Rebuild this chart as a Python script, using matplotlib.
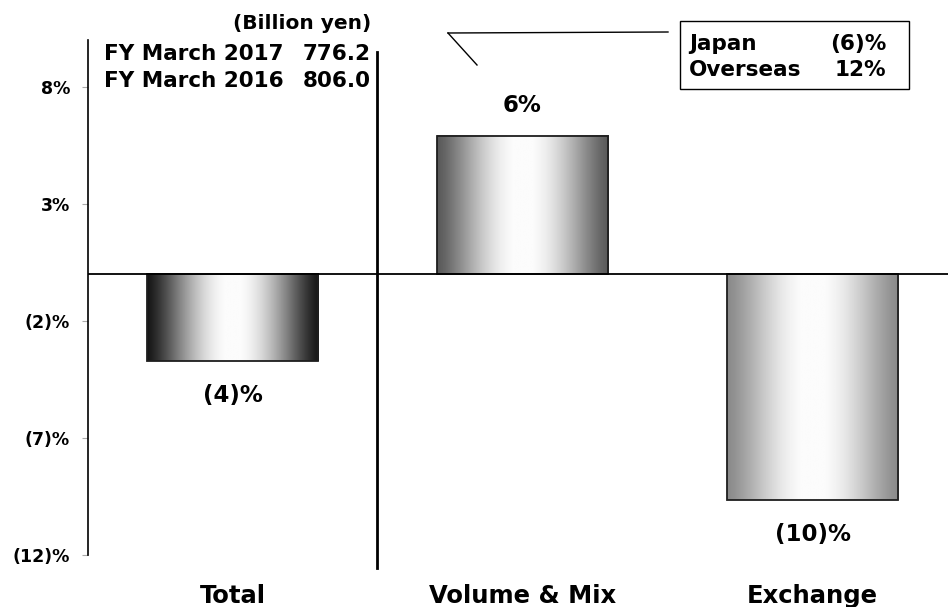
import numpy as np
import matplotlib.pyplot as plt
import matplotlib.transforms as mtransforms
from matplotlib.patches import Rectangle

categories = ["Total", "Volume & Mix", "Exchange"]
values = [-3.73, 5.92, -9.64]
value_labels = ["(4)%", "6%", "(10)%"]
edge_grays = [0.09, 0.35, 0.54]
yticks = [8, 3, -2, -7, -12]
ytick_labels = ["8%", "3%", "(2)%", "(7)%", "(12)%"]
fy_lines = [("FY March 2017", "776.2"), ("FY March 2016", "806.0")]
region_lines = [("Japan", "(6)%"), ("Overseas", "12%")]

plt.rcParams['font.family'] = ['DejaVu Sans']
W, H = 948, 607
fig = plt.figure(figsize=(9.48, 6.07), dpi=100)
ax = fig.add_axes([88/W, 1-555/H, 860/W, 515/H])
ax.set_xlim(-0.498, 2.467)
ax.set_ylim(-12, 10)

x = np.arange(len(categories))
width = 0.59
bars = ax.bar(x, values, width=width, facecolor='none', edgecolor='#1e1e1e', linewidth=1.3, zorder=3)

t = np.linspace(0, 1, 256)
for b, g in zip(bars, edge_grays):
    prof = np.sin(np.pi * t) ** 1.3
    vals = np.minimum(g + (1 - g) * prof, 0.985)
    img = np.tile(vals, (2, 1))
    x0, y0 = b.get_x(), b.get_y()
    w, h = b.get_width(), b.get_height()
    ax.imshow(img, cmap='gray', vmin=0, vmax=1, aspect='auto',
              extent=[x0, x0 + w, y0, y0 + h], zorder=2, interpolation='bilinear')

for xi, v, lab in zip(x, values, value_labels):
    off = 24 if v >= 0 else -41
    ax.annotate(lab, (xi, v), xytext=(0, off * 0.72), textcoords='offset points',
                ha='center', va='baseline', fontsize=16.5, fontweight='bold')

ax.axhline(0, color='black', linewidth=1.3, zorder=4)
ax.plot([0.5, 0.5], [-12.55, 9.5], color='black', linewidth=2, clip_on=False, zorder=4)

for s in ['top', 'right', 'bottom']:
    ax.spines[s].set_visible(False)
ax.spines['left'].set_linewidth(1.2)
ax.set_yticks(yticks)
ax.set_yticklabels(ytick_labels, fontsize=12.5, fontweight='bold')
ax.tick_params(axis='y', length=4, color='#aaaaaa', pad=9)
ax.set_xticks([])

blend = mtransforms.blended_transform_factory(ax.transData, ax.transAxes)
for xi, c in zip(x, categories):
    ax.text(xi, (555 - 603) / 515, c, transform=blend, ha='center', va='baseline',
            fontsize=17.5, fontweight='bold', clip_on=False)

fig.text(371/W, 1-29/H, "(Billion yen)", ha='right', va='baseline', fontsize=14.5, fontweight='bold')
for i, (a, b) in enumerate(fy_lines):
    yy = 1 - (60 + 27*i)/H
    fig.text(104/W, yy, a, ha='left', va='baseline', fontsize=15.5, fontweight='bold')
    fig.text(371/W, yy, b, ha='right', va='baseline', fontsize=15.5, fontweight='bold')

box = Rectangle((680/W, 1-89/H), 229/W, 68/H, transform=fig.transFigure,
                facecolor='white', edgecolor='black', linewidth=1)
fig.patches.append(box)
for i, (a, b) in enumerate(region_lines):
    yy = 1 - (50 + 26*i)/H
    fig.text(689/W, yy, a, ha='left', va='baseline', fontsize=15.5, fontweight='bold')
    fig.text(886/W, yy, b, ha='right', va='baseline', fontsize=15.5, fontweight='bold')

fig.add_artist(plt.Line2D([448/W, 668/W], [1-33/H, 1-32/H], color='black', linewidth=1, transform=fig.transFigure))
fig.add_artist(plt.Line2D([448/W, 477/W], [1-33/H, 1-65/H], color='black', linewidth=1, transform=fig.transFigure))

fig.savefig("out.png", dpi=100)
